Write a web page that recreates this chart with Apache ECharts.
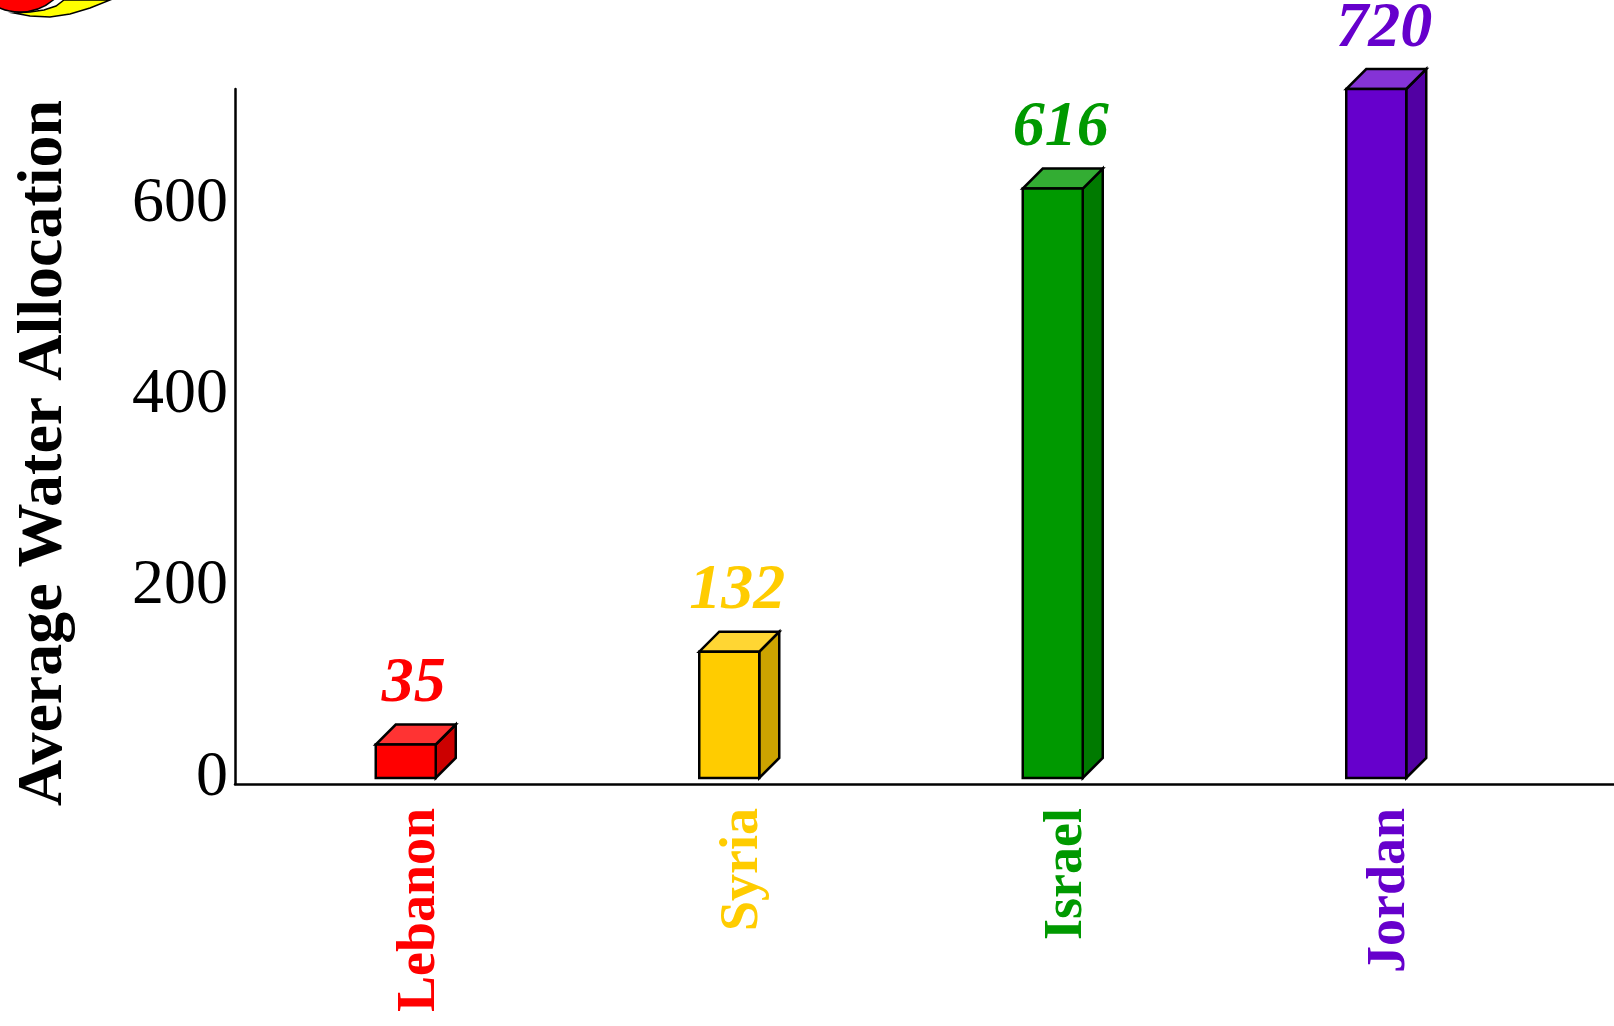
<!DOCTYPE html>
<html>
<head>
<meta charset="utf-8">
<script src="https://cdn.jsdelivr.net/npm/echarts@6/dist/echarts.min.js"></script>
<style>
html,body{margin:0;padding:0;background:#fff;}
#chart{width:1614px;height:1026px;}
</style>
</head>
<body>
<div id="chart"></div>
<script>
// ---- data ----
const categories = ['Lebanon', 'Syria', 'Israel', 'Jordan'];
const values = [35, 132, 616, 720];
const yTicks = [0, 200, 400, 600];
const yTitle = 'Average Water Allocation';

// ---- styles ----
const frontColors = ['#FF0000', '#FFCC00', '#009900', '#6600CC'];
const topColors   = ['#FF3333', '#FFD633', '#33AD33', '#8533D6'];
const sideColors  = ['#CC0000', '#CCA300', '#007A00', '#5200A3'];
const labelColors = ['#FF0000', '#FFCC00', '#009900', '#6600CC'];
const SERIF = '"Liberation Serif", "Times New Roman", serif';

const chart = echarts.init(document.getElementById('chart'));

function renderBar(params, api) {
  const idx = api.value(0);
  const v = api.value(1);
  const top = api.coord([idx, v]);
  const base = api.coord([idx, 0]);
  const d = 20;
  const x0 = top[0] - 44, x1 = top[0] + 16;
  const yT = top[1], yB = base[1];
  const lw = 2.5;
  return {
    type: 'group',
    children: [
      {type: 'polygon', shape: {points: [[x1, yT], [x1 + d, yT - d], [x1 + d, yB - d], [x1, yB]]},
       style: {fill: sideColors[idx], stroke: '#000', lineWidth: lw}},
      {type: 'polygon', shape: {points: [[x0, yT], [x1, yT], [x1 + d, yT - d], [x0 + d, yT - d]]},
       style: {fill: topColors[idx], stroke: '#000', lineWidth: lw}},
      {type: 'rect', shape: {x: x0, y: yT, width: x1 - x0, height: yB - yT},
       style: {fill: frontColors[idx], stroke: '#000', lineWidth: lw}},
      {type: 'text', x: top[0] - 6, y: yT - d - 40,
       style: {text: String(v), fill: labelColors[idx], font: 'italic bold 64px ' + SERIF,
               align: 'center', verticalAlign: 'middle'}}
    ]
  };
}

chart.setOption({
  animation: false,
  backgroundColor: '#ffffff',
  grid: [
    {left: 258, right: 62, top: 89, bottom: 248},
    {left: 235, right: 0, top: 89, bottom: 242}
  ],
  xAxis: [
    {
      type: 'category', gridIndex: 0, data: categories,
      axisLine: {show: false}, axisTick: {show: false}, splitLine: {show: false},
      axisLabel: {
        rotate: 90, margin: 30, fontSize: 54, fontWeight: 'bold', fontFamily: SERIF,
        color: function (val) { return labelColors[categories.indexOf(val)]; }
      }
    },
    {
      type: 'value', gridIndex: 1, min: 0, max: 1,
      axisLine: {show: true, lineStyle: {color: '#000', width: 2.5}},
      axisTick: {show: false}, axisLabel: {show: false}, splitLine: {show: false}
    }
  ],
  yAxis: [
    {
      type: 'value', gridIndex: 0, min: 0, max: 720, interval: 200,
      axisLine: {show: false}, axisTick: {show: false}, splitLine: {show: false},
      axisLabel: {
        margin: 30, fontSize: 64, fontFamily: SERIF, color: '#000',
        formatter: function (v) { return yTicks.indexOf(v) >= 0 ? String(v) : ''; }
      }
    },
    {
      type: 'value', gridIndex: 1, min: 0, max: 720,
      axisLine: {show: true, lineStyle: {color: '#000', width: 2.5}},
      axisTick: {show: false}, axisLabel: {show: false}, splitLine: {show: false}
    }
  ],
  graphic: [
    {type: 'text', x: 44, y: 453, rotation: Math.PI / 2,
     style: {text: yTitle, font: 'bold 64px ' + SERIF, fill: '#000',
             align: 'center', verticalAlign: 'middle'}},
    {type: 'polygon',
     shape: {points: [[14, 13], [30, 16], [50, 17], [70, 14], [90, 8], [110, 0],
                      [64, 0], [56, 6], [44, 10], [30, 12]]},
     style: {fill: '#FFFF00', stroke: '#000', lineWidth: 1.5}},
    {type: 'circle', shape: {cx: 20, cy: -40, r: 52},
     style: {fill: '#FF0000', stroke: '#000', lineWidth: 1.5}}
  ],
  series: [{
    type: 'custom', xAxisIndex: 0, yAxisIndex: 0,
    renderItem: renderBar,
    data: values.map(function (v, i) { return [i, v]; })
  }]
});
</script>
</body>
</html>
